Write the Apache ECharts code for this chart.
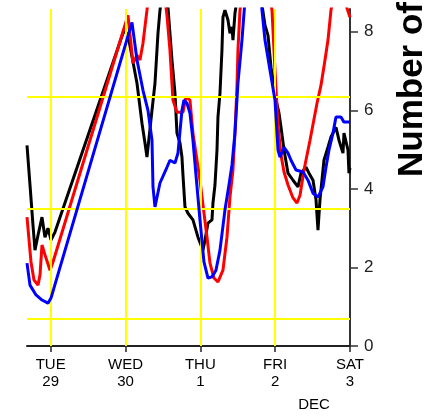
<!DOCTYPE html>
<html>
<head>
<meta charset="utf-8">
<style>
html,body{margin:0;padding:0;background:#fff;}
#chart{width:442px;height:419px;}
</style>
<script src="https://cdn.jsdelivr.net/npm/echarts@6/dist/echarts.min.js"></script>
</head>
<body>
<div id="chart"></div>
<script>
// hours relative to Tue 29 00:00, value = count
const dayTicks = [0, 24, 48, 72, 96];
const dayLabels = ['TUE\n29', 'WED\n30', 'THU\n1', 'FRI\n2', 'SAT\n3'];
const yTicks = [0, 2, 4, 6, 8];
const hGrid = [0.7, 3.5, 6.35];
const vGrid = [0, 24, 48, 72];

const blackData = [
[-7.6,5.11],[-6.64,4.10],[-5.68,3.08],[-5.04,2.44],[-4.07,2.82],[-2.79,3.28],[-1.83,2.77],[-0.87,3.00],[0.10,2.70],[1.38,2.90],
[23.51,8.04],[24.79,7.91],[27.68,6.69],[29.28,5.67],[30.24,5.17],[30.88,4.81],[32.49,6.00],[33.45,6.69],[34.41,7.96],[35.05,8.55],
[36.33,9.20],[37.61,8.63],[38.9,7.28],[39.86,6.44],[40.5,5.42],[41.47,5.17],[42.1,4.81],[42.43,4.35],[43.07,3.54],[44.03,3.38],
[45.63,3.21],[47.24,2.77],[47.88,2.77],[48.84,2.44],[49.49,2.70],[50.45,3.13],[51.73,3.21],[52.05,3.64],[52.69,4.10],[53.34,4.99],
[53.65,5.83],[54.3,6.44],[54.93,7.53],[55.25,8.37],[55.89,8.55],[56.86,8.30],[57.5,7.96],[58.14,8.12],[58.46,7.79],[59.1,8.47],
[59.74,8.80],[63.9,9.8],[67.77,8.68],[68.73,8.17],[69.7,7.91],[70.66,7.10],[72.27,6.26],[73.23,5.93],[73.87,5.57],[74.84,4.99],
[76.12,4.40],[77.72,4.22],[79.33,4.05],[80.29,4.40],[81.89,4.55],[82.85,4.40],[84.14,4.22],[85.1,3.72],[85.73,2.95],[86.37,3.72],
[87.65,4.73],[88.93,5.06],[89.9,5.32],[91.5,5.57],[92.47,5.24],[93.75,4.91],[94.07,5.42],[95.35,4.99],[95.67,4.40],[96.0,4.53]
];

const redData = [
[-7.6,3.28],[-6.32,2.14],[-5.36,1.68],[-4.07,1.55],[-3.43,1.81],[-2.79,2.57],[-1.83,2.32],[-0.22,1.93],[0.74,2.14],
[24.79,8.42],[26.39,7.20],[27.68,7.40],[28.64,7.28],[29.6,7.71],[30.88,8.55],[31.84,9.31],[34.09,9.82],[36.33,9.06],[37.29,8.42],
[38.25,7.53],[39.22,6.26],[40.5,5.95],[42.43,5.95],[43.39,6.34],[44.67,6.26],[45.63,5.42],[46.92,4.73],[47.88,4.22],[48.84,3.59],
[50.13,2.77],[51.09,2.11],[52.37,1.73],[53.65,1.63],[55.25,1.93],[56.54,2.77],[57.5,3.79],[58.46,4.48],[59.1,5.42],[59.74,6.59],
[60.06,7.53],[60.71,8.55],[63.9,10.33],[67.77,10.08],[70.98,8.55],[71.94,7.02],[72.91,5.62],[73.87,4.86],[74.84,4.43],[76.12,4.10],
[77.72,3.77],[79.0,3.64],[79.97,3.84],[81.25,4.48],[83.17,5.24],[85.42,6.18],[86.7,6.64],[87.98,7.28],[88.94,7.79],[89.9,8.55],
[92.15,9.57],[94.71,8.68],[96.0,8.37]
];

const blueData = [
[-7.6,2.11],[-6.64,1.55],[-4.71,1.30],[-2.79,1.17],[-0.87,1.09],[0.1,1.22],[1.06,1.48],
[26.07,8.24],[27.68,7.28],[29.6,6.51],[31.2,6.00],[32.49,5.24],[32.81,4.05],[33.45,3.54],[35.05,4.15],[37.29,4.55],[38.25,4.73],
[39.86,4.66],[40.82,4.91],[42.1,6.00],[42.75,6.26],[43.71,6.18],[44.67,5.93],[45.63,5.24],[46.6,4.35],[47.88,3.21],[49.16,2.14],
[50.45,1.73],[51.73,1.76],[53.01,1.93],[54.3,2.44],[55.89,3.46],[57.18,4.10],[58.14,4.61],[59.1,5.42],[60.06,6.69],[61.35,7.79],
[62.31,8.80],[64.88,9.82],[67.13,9.2],[67.77,8.55],[68.73,7.79],[70.34,7.02],[71.94,6.26],[72.91,4.99],[73.55,4.81],[74.84,5.06],
[76.12,4.91],[77.08,4.73],[78.68,4.48],[80.93,4.43],[82.53,4.22],[84.14,3.89],[85.73,3.79],[87.33,4.05],[88.3,4.55],[89.26,4.99],
[90.54,5.42],[91.5,5.83],[93.1,5.83],[94.07,5.70],[96.0,5.70]
];

const chart = echarts.init(document.getElementById('chart'), null, {renderer: 'canvas'});
const FONT = '"Liberation Sans", Arial, sans-serif';

const gridLines = hGrid.map(v => ({yAxis: v})).concat(vGrid.map(v => ({xAxis: v})));

chart.setOption({
  animation: false,
  backgroundColor: '#fff',
  grid: {left: 27, right: 92, top: 9, bottom: 73, containLabel: false},
  xAxis: {
    type: 'value', min: -7.6, max: 96, position: 'bottom',
    axisLine: {show: true, onZero: false, lineStyle: {color: '#222', width: 2}},
    axisTick: {show: true, customValues: dayTicks, length: 6, lineStyle: {color: '#222', width: 1.5}},
    axisLabel: {
      show: true, customValues: dayTicks, margin: 10, color: '#000',
      fontFamily: FONT, fontSize: 15, lineHeight: 17, align: 'center',
      formatter: function (v) { const i = dayTicks.indexOf(Math.round(v)); return i >= 0 ? dayLabels[i] : ''; }
    },
    splitLine: {show: false}
  },
  yAxis: {
    type: 'value', min: 0, max: 8.58, position: 'right',
    axisLine: {show: true, onZero: false, lineStyle: {color: '#333', width: 2}},
    axisTick: {show: true, customValues: yTicks, length: 8, lineStyle: {color: '#333', width: 1.5}},
    axisLabel: {show: true, customValues: yTicks, margin: 14, color: '#222', fontFamily: FONT, fontSize: 17},
    splitLine: {show: false}
  },
  graphic: [
    {type: 'text', x: 314, y: 405, style: {text: 'DEC', fill: '#000', font: '15px ' + FONT, textAlign: 'center', textVerticalAlign: 'middle'}},
    {type: 'text', x: 412, y: 177, rotation: Math.PI / 2, style: {text: 'Number of', fill: '#000', font: 'bold 35px ' + FONT, textAlign: 'left', textVerticalAlign: 'middle'}}
  ],
  series: [
    {
      type: 'line', data: [], z: 1, silent: true,
      markLine: {silent: true, symbol: 'none', label: {show: false},
        lineStyle: {color: '#ffff00', width: 2, type: 'solid'}, emphasis: {disabled: true},
        data: gridLines}
    },
    {type: 'line', data: blackData, z: 3, symbol: 'none', clip: true, lineStyle: {color: '#000', width: 3}},
    {type: 'line', data: redData, z: 4, symbol: 'none', clip: true, lineStyle: {color: '#ff0000', width: 3}},
    {type: 'line', data: blueData, z: 5, symbol: 'none', clip: true, lineStyle: {color: '#0000ff', width: 3}}
  ]
});
</script>
</body>
</html>
